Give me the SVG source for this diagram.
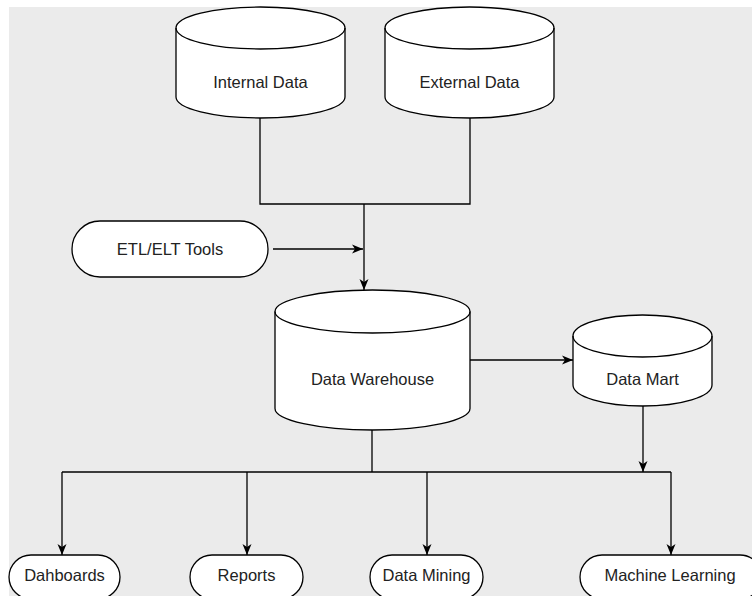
<svg xmlns="http://www.w3.org/2000/svg" width="752" height="596" viewBox="0 0 752 596">
<style>
.shape{fill:#ffffff;stroke:#000000;stroke-width:1.3}
.rim{fill:none;stroke:#000000;stroke-width:1.3}
.lbl{font-family:"Liberation Sans",Arial,Helvetica,sans-serif;font-size:16.5px;fill:#222222;text-anchor:middle}
.conn{fill:none;stroke:#000000;stroke-width:1.3}
</style>
<defs>
<marker id="arr" markerUnits="userSpaceOnUse" markerWidth="12" markerHeight="12" viewBox="0 0 12 12" refX="11" refY="6" orient="auto">
<path d="M0,1.5 L11,6 L0,10.5 L3,6 Z" fill="#000000"/>
</marker>
</defs>
<rect x="0" y="0" width="752" height="596" fill="#ffffff"/>
<rect x="9" y="7" width="743" height="589" fill="#ebebeb"/>

<g id="connectors">
<path class="conn" d="M260,118 V204 H470 V118"/>
<path class="conn" d="M364,204 V290" marker-end="url(#arr)"/>
<path class="conn" d="M273,249 H363" marker-end="url(#arr)"/>
<path class="conn" d="M470,360 H573" marker-end="url(#arr)"/>
<path class="conn" d="M643,406 V472" marker-end="url(#arr)"/>
<path class="conn" d="M372,430 V472"/>
<path class="conn" d="M62,472 H671"/>
<path class="conn" d="M62,472 V555" marker-end="url(#arr)"/>
<path class="conn" d="M247,472 V555" marker-end="url(#arr)"/>
<path class="conn" d="M427,472 V555" marker-end="url(#arr)"/>
<path class="conn" d="M671,472 V555" marker-end="url(#arr)"/>
</g>

<g id="internal-data">
<path class="shape" d="M176,28 A84.5,21 0 0 1 345,28 L345,97 A84.5,21 0 0 1 176,97 Z"/>
<path class="rim" d="M176,28 A84.5,21 0 0 0 345,28"/>
<text class="lbl" x="260.5" y="88">Internal Data</text>
</g>

<g id="external-data">
<path class="shape" d="M385,28 A84.5,21 0 0 1 554,28 L554,97 A84.5,21 0 0 1 385,97 Z"/>
<path class="rim" d="M385,28 A84.5,21 0 0 0 554,28"/>
<text class="lbl" x="469.5" y="88">External Data</text>
</g>

<g id="etl-tools">
<rect class="shape" x="72" y="221" width="196" height="56" rx="28" ry="28"/>
<text class="lbl" x="170" y="255">ETL/ELT Tools</text>
</g>

<g id="data-warehouse">
<path class="shape" d="M275,311.5 A97.5,21.5 0 0 1 470,311.5 L470,408.5 A97.5,21.5 0 0 1 275,408.5 Z"/>
<path class="rim" d="M275,311.5 A97.5,21.5 0 0 0 470,311.5"/>
<text class="lbl" x="372.5" y="385">Data Warehouse</text>
</g>

<g id="data-mart">
<path class="shape" d="M573,336 A69.5,21 0 0 1 712,336 L712,385 A69.5,21 0 0 1 573,385 Z"/>
<path class="rim" d="M573,336 A69.5,21 0 0 0 712,336"/>
<text class="lbl" x="642.5" y="385">Data Mart</text>
</g>

<g id="dashboards">
<rect class="shape" x="9" y="555" width="111" height="44" rx="22" ry="22"/>
<text class="lbl" x="64.5" y="581">Dahboards</text>
</g>

<g id="reports">
<rect class="shape" x="190" y="555" width="113" height="44" rx="22" ry="22"/>
<text class="lbl" x="246.5" y="581">Reports</text>
</g>

<g id="data-mining">
<rect class="shape" x="370" y="555" width="113" height="44" rx="22" ry="22"/>
<text class="lbl" x="426.5" y="581">Data Mining</text>
</g>

<g id="machine-learning">
<rect class="shape" x="580" y="555" width="182" height="44" rx="22" ry="22"/>
<text class="lbl" x="670" y="581">Machine Learning</text>
</g>
</svg>
